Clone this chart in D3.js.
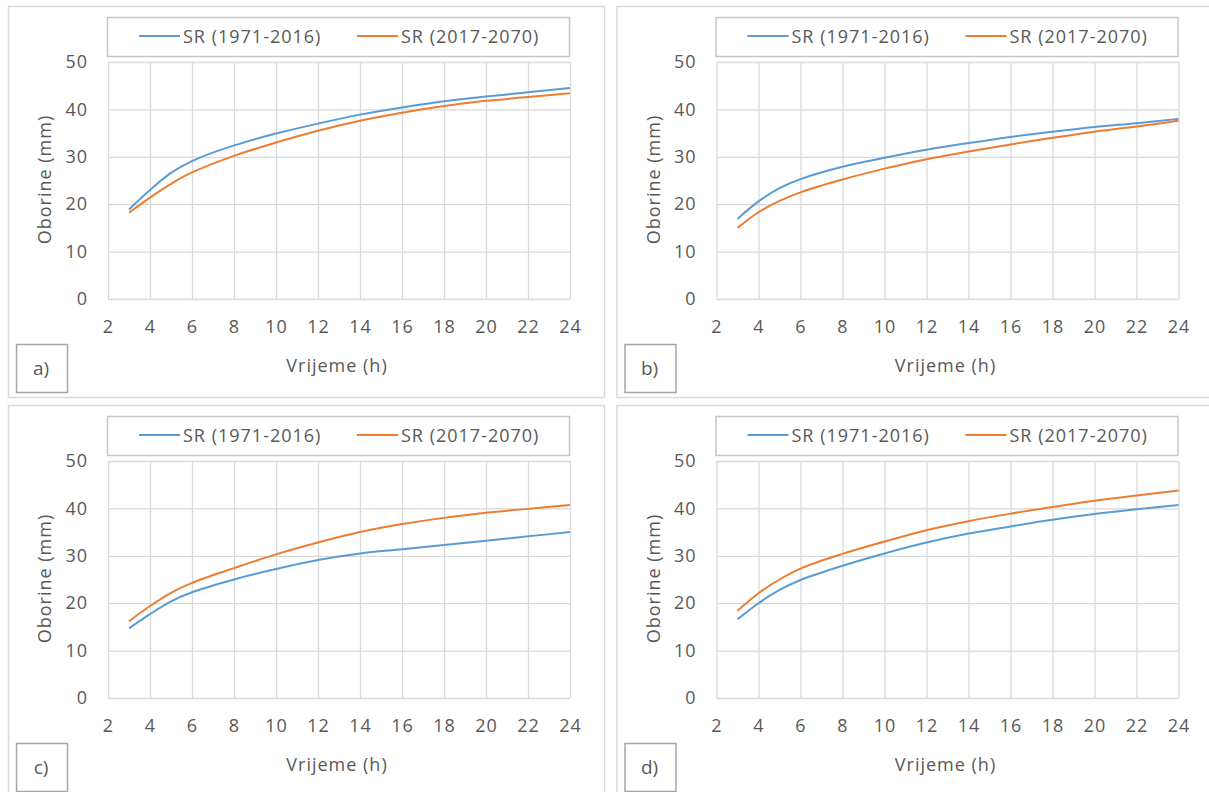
<!DOCTYPE html>
<html>
<head>
<meta charset="utf-8">
<script src="https://cdn.jsdelivr.net/npm/d3@7"></script>
<style>
  html, body { margin: 0; padding: 0; background: #ffffff; }
  svg { display: block; }
  text { font-family: "Open Sans", sans-serif; fill: #595959; }
</style>
</head>
<body>
<svg id="chart" width="1209" height="792"></svg>
<script>
// Trajanje oborine (h)
const hours = [3, 4, 5, 6, 8, 10, 12, 14, 16, 18, 20, 22, 24];

// Oborine (mm) po stanicama, referentno razdoblje i projekcija
const aPast   = [18.9, 23.0, 26.6, 29.1, 32.4, 34.9, 37.0, 38.9, 40.4, 41.7, 42.7, 43.6, 44.5];
const aFuture = [18.2, 21.4, 24.3, 26.7, 30.2, 33.0, 35.5, 37.6, 39.3, 40.7, 41.8, 42.6, 43.4];
const bPast   = [16.9, 20.6, 23.4, 25.3, 27.9, 29.8, 31.5, 32.9, 34.2, 35.3, 36.3, 37.1, 38.0];
const bFuture = [15.0, 18.3, 20.7, 22.5, 25.2, 27.5, 29.5, 31.1, 32.6, 34.0, 35.3, 36.4, 37.6];
const cPast   = [14.7, 17.7, 20.4, 22.3, 25.0, 27.2, 29.1, 30.5, 31.4, 32.3, 33.2, 34.1, 35.0];
const cFuture = [16.2, 19.4, 22.2, 24.3, 27.4, 30.3, 32.8, 35.0, 36.7, 38.0, 39.1, 39.9, 40.7];
const dPast   = [16.6, 20.0, 22.8, 24.9, 27.9, 30.5, 32.8, 34.7, 36.2, 37.6, 38.8, 39.8, 40.7];
const dFuture = [18.4, 22.1, 25.0, 27.3, 30.4, 33.0, 35.4, 37.3, 38.9, 40.3, 41.6, 42.7, 43.8];

const seriesNames = ["SR (1971-2016)", "SR (2017-2070)"];
const seriesColors = ["#5b9bd5", "#ed7d31"];
const xTicks = [2, 4, 6, 8, 10, 12, 14, 16, 18, 20, 22, 24];
const yTicks = [0, 10, 20, 30, 40, 50];
const xTitle = "Vrijeme (h)";
const yTitle = "Oborine (mm)";

const panels = [
  { label: "a)", past: aPast, future: aFuture, col: 0, row: 0 },
  { label: "b)", past: bPast, future: bFuture, col: 1, row: 0 },
  { label: "c)", past: cPast, future: cFuture, col: 0, row: 1 },
  { label: "d)", past: dPast, future: dFuture, col: 1, row: 1 }
];

const svg = d3.select("#chart");

// Panel geometry
const panelW = 596, panelH = 391;
const colStep = 608.5, rowStep = 399;
const originX = 8, originY = 6;
const plot = { left: 100, top: 56, width: 462, height: 237 };

const x = d3.scaleLinear().domain([2, 24]).range([0, plot.width]);
const y = d3.scaleLinear().domain([0, 50]).range([plot.height, 0]);

const line = d3.line()
  .x((d, i) => x(hours[i]))
  .y(d => y(d))
  .curve(d3.curveCatmullRom.alpha(0.5));

panels.forEach(p => {
  const g = svg.append("g")
    .attr("transform", `translate(${originX + p.col * colStep},${originY + p.row * rowStep})`);

  // Frame of the panel
  g.append("rect")
    .attr("x", 0.5).attr("y", 0.5)
    .attr("width", panelW).attr("height", panelH)
    .attr("fill", "#fff")
    .attr("stroke", "#d9d9d9").attr("stroke-width", 1.5);

  const pg = g.append("g").attr("transform", `translate(${plot.left},${plot.top})`);

  // Grid
  pg.append("g")
    .call(d3.axisLeft(y).tickValues(yTicks).tickSize(-plot.width).tickFormat(""))
    .call(s => s.select(".domain").remove())
    .call(s => s.selectAll("line").attr("stroke", "#d9d9d9").attr("stroke-width", 1.3));
  pg.append("g")
    .attr("transform", `translate(0,${plot.height})`)
    .call(d3.axisBottom(x).tickValues(xTicks).tickSize(-plot.height).tickFormat(""))
    .call(s => s.select(".domain").remove())
    .call(s => s.selectAll("line").attr("stroke", "#d9d9d9").attr("stroke-width", 1.3));

  // Tick labels
  pg.append("g")
    .call(d3.axisLeft(y).tickValues(yTicks).tickSize(0).tickPadding(20))
    .call(s => s.select(".domain").remove())
    .call(s => s.selectAll("text")
      .style("font-family", "'Open Sans', sans-serif")
      .attr("font-size", 18).attr("fill", "#595959").attr("letter-spacing", 1));
  pg.append("g")
    .attr("transform", `translate(0,${plot.height})`)
    .call(d3.axisBottom(x).tickValues(xTicks).tickSize(0).tickPadding(21))
    .call(s => s.select(".domain").remove())
    .call(s => s.selectAll("text")
      .style("font-family", "'Open Sans', sans-serif")
      .attr("font-size", 18).attr("fill", "#595959").attr("letter-spacing", 1));

  // Series
  [p.past, p.future].forEach((vals, k) => {
    pg.append("path")
      .datum(vals)
      .attr("d", line)
      .attr("fill", "none")
      .attr("stroke", seriesColors[k])
      .attr("stroke-width", 2);
  });

  // Axis titles
  g.append("text")
    .attr("x", plot.left + plot.width / 2 - 2)
    .attr("y", 366)
    .attr("text-anchor", "middle")
    .attr("font-size", 18).attr("letter-spacing", 1)
    .text(xTitle);
  g.append("text")
    .attr("transform", `translate(43,${plot.top + plot.height / 2 - 1}) rotate(-90)`)
    .attr("text-anchor", "middle")
    .attr("font-size", 18).attr("letter-spacing", 1)
    .text(yTitle);

  // Legend
  const lg = g.append("g").attr("transform", "translate(99,11)");
  lg.append("rect")
    .attr("x", 0.5).attr("y", 0.5)
    .attr("width", 462).attr("height", 39)
    .attr("fill", "#fff").attr("stroke", "#c6c6c6").attr("stroke-width", 1.5);
  const itemX = [32, 250];
  seriesNames.forEach((name, k) => {
    lg.append("line")
      .attr("x1", itemX[k]).attr("x2", itemX[k] + 41)
      .attr("y1", 19).attr("y2", 19)
      .attr("stroke", seriesColors[k]).attr("stroke-width", 2);
    lg.append("text")
      .attr("x", itemX[k] + 44).attr("y", 25.5)
      .attr("font-size", 18).attr("letter-spacing", 1)
      .text(name);
  });

  // Panel letter
  g.append("rect")
    .attr("x", 8.5).attr("y", 338.5)
    .attr("width", 51).attr("height", 48)
    .attr("fill", "#fff").attr("stroke", "#a6a6a6").attr("stroke-width", 1.5);
  g.append("text")
    .attr("x", 33).attr("y", 369)
    .attr("text-anchor", "middle")
    .attr("font-size", 19).attr("fill", "#000")
    .text(p.label);
});
</script>
</body>
</html>
